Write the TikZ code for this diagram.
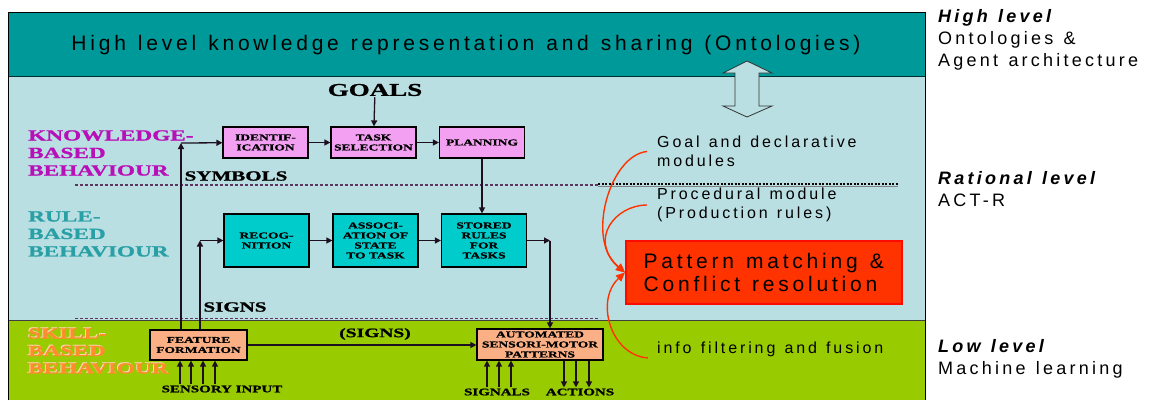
\documentclass[tikz,border=0pt]{standalone}
\usepackage{fontspec}
\setmainfont{Liberation Sans}
\newfontfamily\spaced[LetterSpace=18,WordSpace=1.25]{Liberation Sans}
\newfontfamily\wideserif[FakeStretch=1.5,FakeBold=1.2]{Liberation Serif}
\usetikzlibrary{arrows.meta}

\definecolor{bandteal}{RGB}{0,153,153}
\definecolor{paleblue}{RGB}{186,223,227}
\definecolor{grassgreen}{RGB}{153,204,0}
\definecolor{pinkfill}{RGB}{243,160,243}
\definecolor{cyanfill}{RGB}{0,204,204}
\definecolor{salmonfill}{RGB}{250,176,132}
\definecolor{hotred}{RGB}{255,51,0}
\definecolor{knowcol}{RGB}{184,16,184}
\definecolor{rulecol}{RGB}{40,160,165}
\definecolor{skillcol}{RGB}{255,140,45}
\definecolor{linecol}{RGB}{30,15,30}
\newcommand{\fsz}[2]{\fontsize{#1}{#2}\selectfont}

\begin{document}
\begin{tikzpicture}[x=1pt,y=-1pt,
	blockbox/.style={draw=black,line width=1.2pt,inner sep=1pt,align=center,
		minimum width=85pt,font=\wideserif\bfseries\fsz{9}{10}},
	pinkbox/.style={blockbox,fill=pinkfill,minimum height=31pt},
	cyanbox/.style={blockbox,fill=cyanfill,minimum height=53pt},
	salmonbox/.style={blockbox,fill=salmonfill,minimum height=30pt},
	serif/.style={inner sep=1pt,font=\wideserif\bfseries\fsz{#1}{#1}},
	behaviour/.style={anchor=west,align=left,inner sep=0pt,text=#1,
		font=\wideserif\bfseries\fsz{15.5}{17.5}},
	midlabel/.style={anchor=west,align=left,inner xsep=10pt,inner ysep=0pt,
		font=\spaced\fsz{16}{19}},
	sidelabel/.style={anchor=west,align=left,inner sep=0pt,font=\spaced\fsz{18}{22}},
	conn/.style={draw=linecol,line width=1.3pt,-{Triangle[length=6pt,width=6pt]}},
	redconn/.style={draw=hotred,line width=1.4pt,-{Triangle[length=9pt,width=8pt]}}]

	\useasboundingbox (0,0) rectangle (1149,400);

	% bands
	\fill[bandteal] (8,12) rectangle (925,76);
	\fill[paleblue] (8,76) rectangle (925,320);
	\fill[grassgreen] (8,320) rectangle (925,400);
	\draw[black!70!bandteal,line width=1pt] (8,76) -- (925,76);
	\draw[black!75,line width=1pt] (8,320) -- (925,320);
	\draw[black,line width=0.9pt] (8,400) -- (8,12) -- (925,12) -- (925,400);

	\node[font=\spaced\fsz{21}{24}] (top) at (466,45) {High level knowledge representation and sharing (Ontologies)};

	% double arrow between the two top levels
	\draw[black!80,fill=paleblue,line width=0.8pt] (747,61) -- (772,73) -- (759,73) -- (759,106)
		-- (772,106) -- (747,117) -- (723,106) -- (735,106) -- (735,73) -- (723,73) -- cycle;

	% separators
	\draw[black!40!violet!60!gray,line width=1.6pt,dash pattern=on 3pt off 2pt] (75,185) -- (598,185);
	\draw[gray,line width=1.5pt] (598,186.5) -- (898,186.5);
	\draw[black,line width=2pt,dash pattern=on 2pt off 1.5pt] (598,184) -- (898,184);
	\draw[black!40!violet!60!gray,line width=1.4pt,dash pattern=on 3pt off 2pt] (75,318.5) -- (600,318.5);

	% behaviour labels
	\node[behaviour=knowcol] (kbb) at (28,153) {KNOWLEDGE-\\BASED\\BEHAVIOUR};
	\node[behaviour=rulecol] (rbb) at (28,234) {RULE-\\BASED\\BEHAVIOUR};
	\node[behaviour=white!65!skillcol] (sbbhalo) at (27,350) {SKILL-\\BASED\\BEHAVIOUR};
	\node[behaviour=skillcol] (sbb) at (28,351) {SKILL-\\BASED\\BEHAVIOUR};

	\node[serif=18] (goals) at (375,90) {GOALS};
	\node[serif=14] (symbols) at (236,176) {SYMBOLS};
	\node[serif=14] (signsup) at (235,307) {SIGNS};
	\node[serif=13] (signs) at (375,334) {(SIGNS)};
	\node[serif=10] (sensory) at (222,389) {SENSORY INPUT};
	\node[serif=10] (signals) at (497,392) {SIGNALS};
	\node[serif=10] (actions) at (580,392) {ACTIONS};

	% blocks
	\node[pinkbox] (ident) at (265.5,142.5) {IDENTIF-\\ICATION};
	\node[pinkbox] (tasksel) at (373.5,142.5) {TASK\\SELECTION};
	\node[pinkbox] (planning) at (482,142.5) {PLANNING};
	\node[cyanbox] (recog) at (266.5,240.5) {RECOG-\\NITION};
	\node[cyanbox] (assoc) at (375.5,240.5) {ASSOCI-\\ATION OF\\STATE\\TO TASK};
	\node[cyanbox] (stored) at (484,240.5) {STORED\\RULES\\FOR\\TASKS};
	\node[salmonbox,minimum width=97pt] (feature) at (198.5,345) {FEATURE\\FORMATION};
	\node[salmonbox,minimum width=126pt,minimum height=31pt] (automated) at (540,344.5) {AUTOMATED\\SENSORI-MOTOR\\PATTERNS};

	\coordinate (kcorner) at (181,143);
	\coordinate (rcorner) at (200,240.5);
	\coordinate (scorner) at (550,240.5);

	% connectors
	\draw[conn] (goals) -- (tasksel);
	\draw[conn,line width=2pt] (feature.north -| kcorner) -- (kcorner);
	\draw[conn] (kcorner) -- (ident);
	\draw[conn] (ident) -- (tasksel);
	\draw[conn] (tasksel) -- (planning);
	\draw[conn] (planning.south) -- (planning.south |- stored.north);
	\draw[conn,line width=1.8pt] (feature.north -| rcorner) -- (rcorner);
	\draw[conn] (rcorner) -- (recog);
	\draw[conn] (recog) -- (assoc);
	\draw[conn] (assoc) -- (stored);
	\draw[conn] (stored) -- (scorner);
	\draw[conn] (scorner) -- (scorner |- automated.north);
	\draw[conn] (feature) -- (feature -| automated.west);
	\foreach \x in {180,191,203,215}
		\draw[conn] (sensory.north -| \x,0) -- (feature.south -| \x,0);
	\foreach \x in {487,499,511}
		\draw[conn] (signals.north -| \x,0) -- (automated.south -| \x,0);
	\foreach \x in {564,576,589}
		\draw[conn] (automated.south -| \x,0) -- (actions.north -| \x,0);

	% ACT-R side
	\node[midlabel] (goalmod) at (647,151.5) {Goal and declarative\\modules};
	\node[midlabel] (procmod) at (647,205) {Procedural module\\(Production rules)};
	\node[midlabel] (infofus) at (647,349) {info filtering and fusion};
	\node[draw=red!80!hotred,line width=1.5pt,fill=hotred,anchor=west,align=left,
		inner xsep=14pt,minimum width=276pt,minimum height=63pt,font=\spaced\fsz{21}{23}] (patmatch) at (625,272.5)
		{Pattern matching \&\\Conflict resolution};
	\coordinate (infoend) at (648,358);
	\draw[redconn] (goalmod.west) .. controls (610,155) and (585,240) .. (patmatch.west);
	\draw[redconn] (procmod.west) .. controls (615,205) and (588,240) .. (patmatch.west);
	\draw[redconn] (infoend) .. controls (610,355) and (595,300) .. (patmatch.west);

	% levels
	\node[sidelabel] (highlvl) at (938,39.5) {\bfseries\itshape High level\\Ontologies \&\\Agent architecture};
	\node[sidelabel] (ratlvl) at (938,189) {\bfseries\itshape Rational level\\ACT-R};
	\node[sidelabel] (lowlvl) at (938,359) {\bfseries\itshape Low level\\Machine learning};
\end{tikzpicture}
\end{document}
